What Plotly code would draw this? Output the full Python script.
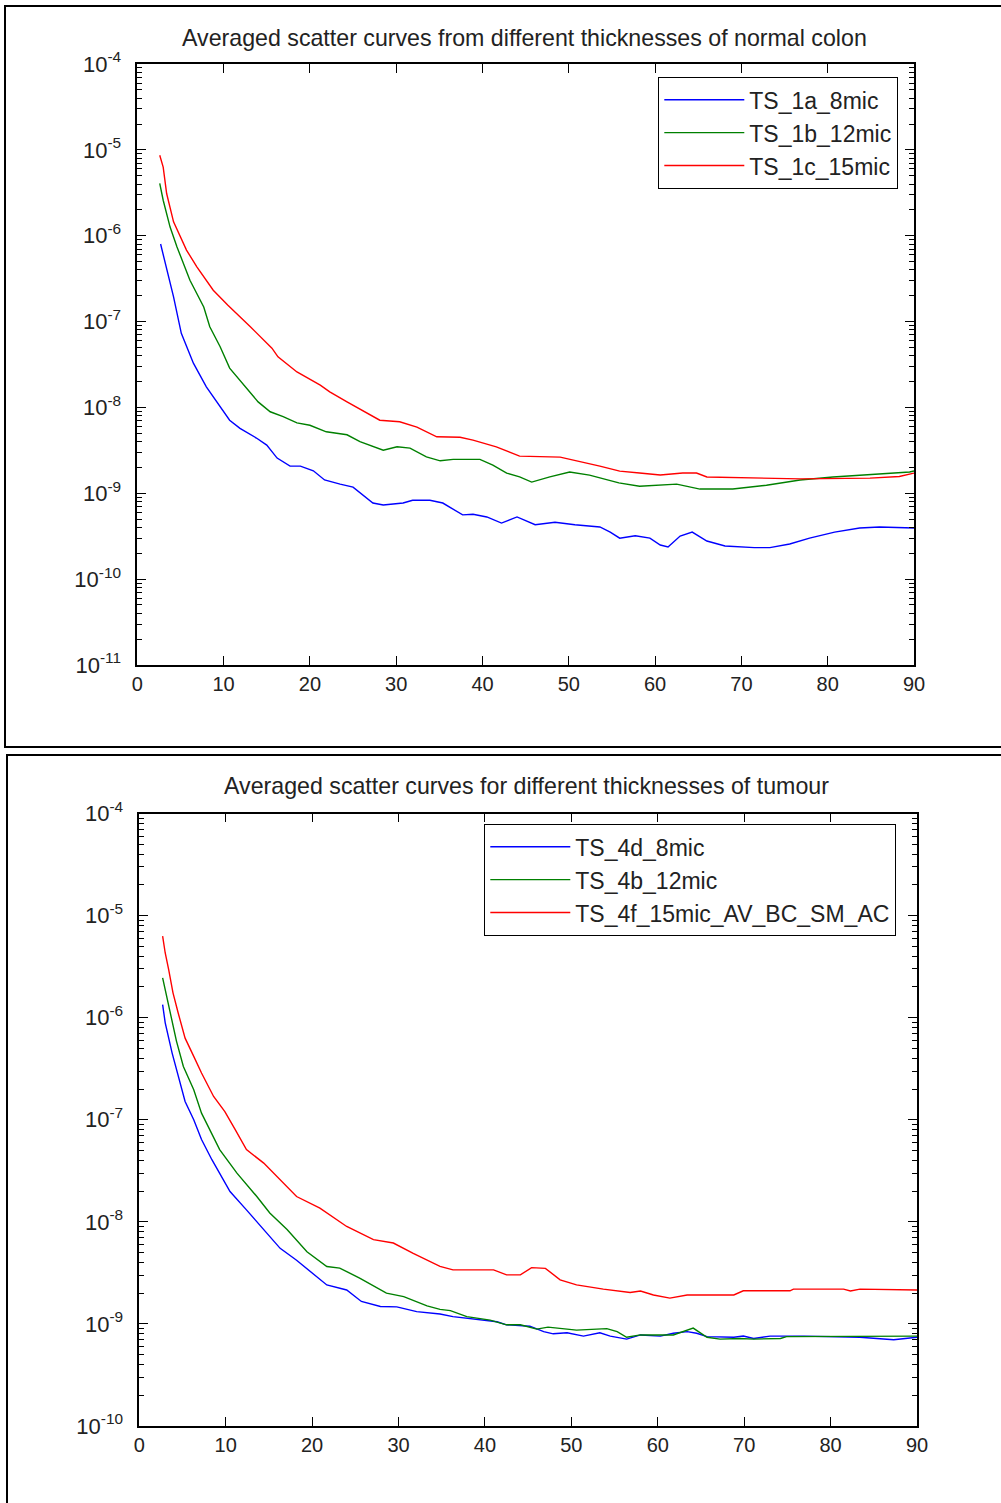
import plotly.graph_objects as go

# ---------------- Top panel: normal colon ----------------
top_title = "Averaged scatter curves from different thicknesses of normal colon"
top_names = ["TS_1a_8mic", "TS_1b_12mic", "TS_1c_15mic"]

top_a_x = [2.7, 4.2, 5.1, 6.5, 8.0, 9.6, 10.7, 11.9, 13.8, 15.0, 16.2, 17.7, 18.9, 20.4, 21.7,
           23.5, 25.0, 27.3, 28.5, 30.8, 31.9, 33.9, 35.4, 37.7, 38.9, 40.5, 42.2, 44.0, 46.1,
           48.4, 50.7, 53.6, 54.8, 55.9, 57.7, 59.4, 60.6, 61.5, 62.9, 64.3, 66.0, 68.1, 71.5,
           73.3, 75.6, 77.9, 80.8, 83.7, 86.0, 90.0]
top_a_y = [8.0e-7, 1.94e-7, 7.3e-8, 3.28e-8, 1.74e-8, 1.02e-8, 7.1e-9, 5.7e-9, 4.4e-9, 3.64e-9,
           2.57e-9, 2.07e-9, 2.07e-9, 1.83e-9, 1.43e-9, 1.28e-9, 1.18e-9, 7.7e-10, 7.3e-10,
           7.7e-10, 8.3e-10, 8.3e-10, 7.7e-10, 5.6e-10, 5.7e-10, 5.3e-10, 4.5e-10, 5.3e-10,
           4.3e-10, 4.6e-10, 4.3e-10, 4.05e-10, 3.53e-10, 3.0e-10, 3.2e-10, 3.0e-10, 2.5e-10,
           2.37e-10, 3.18e-10, 3.53e-10, 2.78e-10, 2.43e-10, 2.33e-10, 2.33e-10, 2.57e-10,
           3.0e-10, 3.53e-10, 3.94e-10, 4.05e-10, 3.94e-10]

top_b_x = [2.6, 3.0, 3.8, 4.6, 6.1, 7.7, 8.4, 9.6, 10.7, 12.2, 14.0, 15.4, 16.9, 18.5, 20.0,
           21.9, 24.3, 25.8, 28.5, 30.1, 31.6, 33.5, 35.1, 36.6, 39.7, 41.2, 42.8, 44.3, 45.7,
           47.8, 50.1, 52.4, 55.8, 58.2, 62.5, 65.2, 69.0, 72.9, 76.8, 80.6, 84.5, 89.5, 90.0]
top_b_y = [4.06e-6, 2.59e-6, 1.26e-6, 7.4e-7, 3.03e-7, 1.48e-7, 8.7e-8, 5.1e-8, 2.87e-8,
           1.92e-8, 1.16e-8, 8.9e-9, 7.8e-9, 6.6e-9, 6.2e-9, 5.2e-9, 4.8e-9, 4.0e-9, 3.18e-9,
           3.48e-9, 3.36e-9, 2.66e-9, 2.39e-9, 2.48e-9, 2.48e-9, 2.13e-9, 1.72e-9, 1.55e-9,
           1.35e-9, 1.55e-9, 1.77e-9, 1.63e-9, 1.32e-9, 1.21e-9, 1.28e-9, 1.12e-9, 1.12e-9,
           1.24e-9, 1.43e-9, 1.55e-9, 1.63e-9, 1.77e-9, 1.82e-9]

top_c_x = [2.6, 3.0, 3.4, 4.2, 5.7, 6.9, 8.8, 10.5, 13.1, 15.6, 16.3, 18.5, 21.2, 22.3, 24.3,
           26.6, 28.1, 30.4, 32.4, 34.7, 37.4, 38.9, 41.6, 44.3, 46.7, 49.0, 53.6, 55.9, 58.2,
           60.6, 63.2, 64.8, 66.0, 73.3, 76.8, 84.9, 88.3, 90.0]
top_c_y = [8.65e-6, 6.3e-6, 3.1e-6, 1.45e-6, 6.8e-7, 4.34e-7, 2.32e-7, 1.55e-7, 8.7e-8, 4.9e-8,
           3.88e-8, 2.59e-8, 1.82e-8, 1.52e-8, 1.16e-8, 8.5e-9, 7.1e-9, 6.8e-9, 5.9e-9, 4.55e-9,
           4.5e-9, 4.16e-9, 3.48e-9, 2.71e-9, 2.65e-9, 2.64e-9, 2.07e-9, 1.81e-9, 1.72e-9,
           1.63e-9, 1.72e-9, 1.72e-9, 1.55e-9, 1.50e-9, 1.47e-9, 1.50e-9, 1.57e-9, 1.72e-9]

# ---------------- Bottom panel: tumour ----------------
bot_title = "Averaged scatter curves for different thicknesses of tumour"
bot_names = ["TS_4d_8mic", "TS_4b_12mic", "TS_4f_15mic_AV_BC_SM_AC"]

bot_d_x = [2.7, 3.0, 3.8, 4.5, 5.3, 6.3, 7.2, 8.4, 9.3, 10.5, 12.4, 14.8, 16.3, 18.2, 20.1,
           21.7, 24.0, 25.7, 27.9, 29.8, 32.1, 34.8, 36.3, 37.9, 41.4, 42.5, 45.2, 46.8, 47.9,
           49.5, 51.4, 53.3, 54.5, 56.4, 58.0, 60.3, 61.8, 63.4, 64.5, 65.7, 68.8, 69.9, 71.1,
           73.0, 76.9, 83.4, 87.3, 90.0]
bot_d_y = [1.34e-6, 8.9e-7, 4.5e-7, 2.66e-7, 1.51e-7, 1.0e-7, 6.4e-8, 4.06e-8, 3.0e-8, 1.98e-8,
           1.31e-8, 7.7e-9, 5.5e-9, 4.2e-9, 3.14e-9, 2.41e-9, 2.15e-9, 1.66e-9, 1.48e-9,
           1.47e-9, 1.32e-9, 1.25e-9, 1.18e-9, 1.14e-9, 1.05e-9, 9.8e-10, 9.5e-10, 8.4e-10,
           8.0e-10, 8.2e-10, 7.6e-10, 8.2e-10, 7.6e-10, 7.1e-10, 7.8e-10, 7.6e-10, 8.1e-10,
           8.4e-10, 8.1e-10, 7.5e-10, 7.4e-10, 7.6e-10, 7.2e-10, 7.6e-10, 7.6e-10, 7.4e-10,
           7.0e-10, 7.4e-10]

bot_b_x = [2.7, 3.0, 3.6, 4.3, 5.1, 6.3, 7.2, 8.4, 9.3, 11.3, 13.6, 15.1, 17.1, 19.4, 21.7,
           23.2, 25.5, 28.6, 30.6, 33.3, 34.8, 36.0, 37.9, 40.6, 42.5, 44.1, 46.0, 47.3, 50.6,
           54.1, 55.3, 56.4, 58.0, 61.8, 63.4, 64.1, 65.7, 67.2, 69.5, 71.1, 74.2, 74.9, 90.0]
bot_b_y = [2.45e-6, 1.88e-6, 1.11e-6, 5.9e-7, 3.33e-7, 1.97e-7, 1.16e-7, 7.4e-8, 5.1e-8, 3.0e-8,
           1.77e-8, 1.22e-8, 8.4e-9, 5.1e-9, 3.65e-9, 3.52e-9, 2.81e-9, 2.0e-9, 1.85e-9, 1.5e-9,
           1.39e-9, 1.35e-9, 1.18e-9, 1.09e-9, 9.8e-10, 9.8e-10, 8.9e-10, 9.3e-10, 8.7e-10,
           9.0e-10, 8.4e-10, 7.4e-10, 7.8e-10, 7.8e-10, 8.7e-10, 9.1e-10, 7.4e-10, 7.1e-10,
           7.2e-10, 7.1e-10, 7.2e-10, 7.5e-10, 7.6e-10]

bot_f_x = [2.7, 3.0, 3.4, 3.9, 4.5, 5.3, 6.3, 7.2, 8.6, 9.9, 11.1, 12.4, 14.4, 16.7, 18.2,
           20.9, 24.0, 27.1, 29.4, 31.7, 34.8, 36.3, 41.0, 42.5, 44.1, 45.4, 47.0, 48.7, 50.6,
           53.7, 56.8, 58.0, 59.5, 61.4, 63.4, 68.8, 69.9, 75.3, 75.7, 81.5, 82.3, 83.4, 90.0]
bot_f_y = [6.3e-6, 4.3e-6, 2.96e-6, 1.75e-6, 1.11e-6, 6.3e-7, 4.18e-7, 2.87e-7, 1.69e-7, 1.2e-7,
           8.0e-8, 5.1e-8, 3.76e-8, 2.39e-8, 1.77e-8, 1.36e-8, 9.0e-9, 6.7e-9, 6.2e-9, 4.9e-9,
           3.66e-9, 3.38e-9, 3.38e-9, 3.02e-9, 3.02e-9, 3.56e-9, 3.5e-9, 2.7e-9, 2.41e-9,
           2.19e-9, 2.03e-9, 2.1e-9, 1.92e-9, 1.79e-9, 1.92e-9, 1.92e-9, 2.11e-9, 2.11e-9,
           2.19e-9, 2.19e-9, 2.1e-9, 2.19e-9, 2.15e-9]

x_ticks = [0, 10, 20, 30, 40, 50, 60, 70, 80, 90]
top_exps = [-11, -10, -9, -8, -7, -6, -5, -4]
bot_exps = [-10, -9, -8, -7, -6, -5, -4]

colors = ["#0000ff", "#008000", "#ff0000"]
FONT = "Liberation Sans, Arial, sans-serif"
W, H = 1001, 1503

fig = go.Figure()

top_series = [(top_a_x, top_a_y), (top_b_x, top_b_y), (top_c_x, top_c_y)]
bot_series = [(bot_d_x, bot_d_y), (bot_b_x, bot_b_y), (bot_f_x, bot_f_y)]

for (xs, ys), name, c in zip(top_series, top_names, colors):
    fig.add_trace(go.Scatter(x=xs, y=ys, name=name, mode="lines",
                             line=dict(color=c, width=1.4), xaxis="x", yaxis="y",
                             legend="legend"))
for (xs, ys), name, c in zip(bot_series, bot_names, colors):
    fig.add_trace(go.Scatter(x=xs, y=ys, name=name, mode="lines",
                             line=dict(color=c, width=1.4), xaxis="x2", yaxis="y2",
                             legend="legend2"))


def minor_vals(exps):
    return [m * 10.0 ** e for e in exps[:-1] for m in range(2, 10)]


def xaxis_style(domain, anchor):
    return dict(domain=domain, anchor=anchor, range=[0, 90], tickvals=x_ticks,
                ticks="inside", ticklen=9, tickwidth=1.3, tickcolor="black",
                showline=True, linecolor="black", linewidth=1.6, mirror="allticks",
                showgrid=False, zeroline=False,
                tickfont=dict(family=FONT, size=20, color="#222"))


def yaxis_style(domain, anchor, exps):
    return dict(domain=domain, anchor=anchor, type="log", range=[exps[0], exps[-1]],
                tickvals=[10.0 ** e for e in exps],
                ticktext=["10<sup>%d</sup>" % e for e in exps],
                ticks="inside", ticklen=9, tickwidth=1.3, tickcolor="black",
                ticklabelstandoff=10,
                minor=dict(tickmode="array", tickvals=minor_vals(exps), ticks="inside",
                           ticklen=5, tickwidth=1, tickcolor="black"),
                showline=True, linecolor="black", linewidth=1.6, mirror="allticks",
                showgrid=False, zeroline=False,
                tickfont=dict(family=FONT, size=22, color="#222"))


fig.update_layout(
    autosize=True,
    margin=dict(l=0, r=0, t=0, b=0, autoexpand=False),
    paper_bgcolor="white", plot_bgcolor="white",
    font=dict(family=FONT, color="#222"),
    xaxis=xaxis_style([137.3 / W, 914 / W], "y"),
    yaxis=yaxis_style([1 - 665 / H, 1 - 64 / H], "x", top_exps),
    xaxis2=xaxis_style([139.3 / W, 917 / W], "y2"),
    yaxis2=yaxis_style([1 - 1426 / H, 1 - 813.5 / H], "x2", bot_exps),
    legend=dict(x=658 / W, y=1 - 77 / H, xanchor="left", yanchor="top",
                bordercolor="black", borderwidth=1.3, bgcolor="white",
                font=dict(family=FONT, size=23, color="#222"), itemwidth=80,
                tracegroupgap=0),
    legend2=dict(x=484 / W, y=1 - 824 / H, xanchor="left", yanchor="top",
                 bordercolor="black", borderwidth=1.3, bgcolor="white",
                 font=dict(family=FONT, size=23, color="#222"), itemwidth=80,
                 tracegroupgap=0),
    annotations=[
        dict(text=top_title, x=524.5 / W, y=1 - 38 / H, xref="paper", yref="paper",
             showarrow=False, xanchor="center", yanchor="middle",
             font=dict(family=FONT, size=23.2, color="#222")),
        dict(text=bot_title, x=526 / W, y=1 - 786 / H, xref="paper", yref="paper",
             showarrow=False, xanchor="center", yanchor="middle",
             font=dict(family=FONT, size=23.2, color="#222")),
    ],
    shapes=[
        dict(type="rect", xref="paper", yref="paper", x0=5 / W, x1=1.01,
             y0=1 - 747 / H, y1=1 - 6 / H, line=dict(color="black", width=2)),
        dict(type="rect", xref="paper", yref="paper", x0=7 / W, x1=1.01,
             y0=-0.01, y1=1 - 755 / H, line=dict(color="black", width=2)),
    ],
)

post = (
    "document.documentElement.style.margin='0px';"
    "document.body.style.margin='0px';"
    "document.body.style.padding='0px';"
    "document.body.style.overflow='hidden';"
    "var gd=document.getElementById('{plot_id}');"
    "gd.style.position='fixed';gd.style.top='0px';gd.style.left='0px';"
    "gd.style.width='100vw';gd.style.height='100vh';"
    "Plotly.Plots.resize(gd);"
)

fig.write_html("out.html", config={"displayModeBar": False, "responsive": True},
               default_width="100vw", default_height="100vh", post_script=post)
